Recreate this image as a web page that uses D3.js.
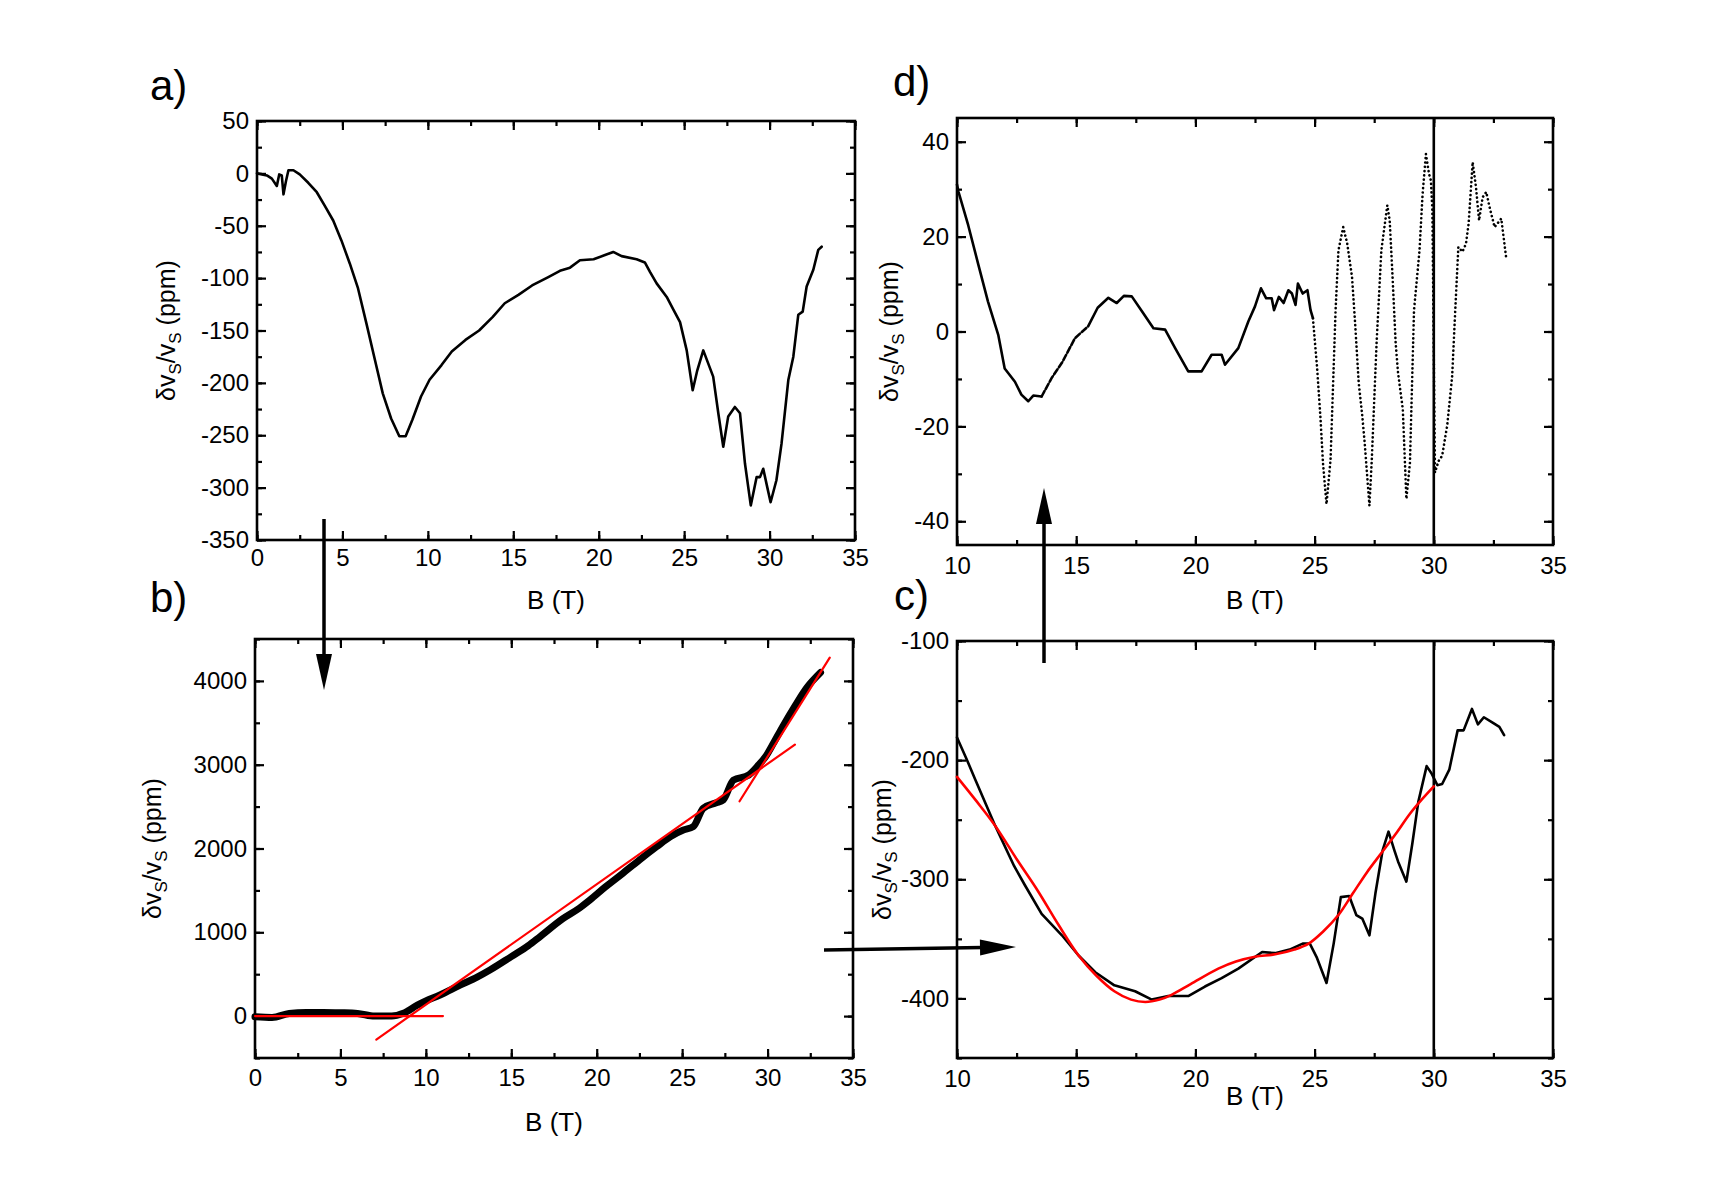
<!DOCTYPE html>
<html>
<head>
<meta charset="utf-8">
<script src="https://cdn.jsdelivr.net/npm/d3@7"></script>
<style>
  body { margin: 0; background: #fff; }
  text { font-family: "Liberation Sans", Arial, Helvetica, sans-serif; fill: #000; }
</style>
</head>
<body>
<svg id="fig" width="1713" height="1198"></svg>
<script>
// ---- data: [B (T), dv/v (ppm)] ----
const panelA = [[0,0],[0.58,-2],[0.87,-5],[1.16,-12],[1.3,-1],[1.45,-2],[1.55,-20],[1.7,-7],[1.84,3],[2.13,3],
  [2.5,-1],[3.0,-9],[3.5,-18],[3.97,-31],[4.46,-45],[4.94,-64],[5.43,-86],[5.9,-109],[6.4,-143],[6.9,-178],
  [7.36,-210],[7.85,-234],[8.33,-251],[8.7,-251],[9.1,-235],[9.6,-213],[10.1,-197],[10.8,-183],[11.4,-170],
  [12.2,-159],[13.0,-150],[13.8,-137],[14.5,-124],[15.3,-116],[16.1,-107],[17.05,-99],[17.73,-93],[18.32,-90],
  [18.9,-83],[19.7,-82],[20.37,-78],[20.85,-75],[21.34,-79],[22.22,-82],[22.7,-85],[23.0,-94],[23.39,-105],
  [23.98,-118],[24.37,-130],[24.76,-142],[25.15,-169],[25.5,-207],[25.77,-188],[26.12,-169],[26.7,-194],
  [27.0,-229],[27.29,-261],[27.58,-232],[27.97,-223],[28.27,-229],[28.56,-277],[28.9,-317],[29.24,-290],
  [29.44,-290],[29.63,-282],[29.87,-300],[30.06,-314],[30.4,-293],[30.7,-258],[31.1,-197],[31.39,-175],
  [31.68,-135],[31.94,-132],[32.17,-108],[32.56,-92],[32.85,-73],[33.05,-70]];

const panelB = [[0,-8],[1,-16],[2,32],[3,44],[4,44],[5,40],[6,32],[7,0],[8,0],[8.68,33],[9.5,130],
  [10,180],[10.83,252],[12,370],[13,465],[13.75,550],[15,710],[16,840],[16.68,948],[18,1160],[19,1290],
  [19.6,1385],[20.5,1540],[21.5,1700],[22.5,1863],[23.5,2020],[24.3,2140],[25.07,2220],[25.65,2260],
  [26.24,2480],[27.0,2545],[27.4,2579],[28.0,2815],[28.9,2877],[29.4,2980],[29.9,3100],[30.3,3240],
  [30.9,3460],[31.6,3700],[32.3,3920],[33.1,4100]];
const fitBFlat = [[0,0],[11,0]];
const fitBMid = [[7.1,-280],[31.6,3240]];
const fitBHigh = [[28.36,2564],[33.64,4278]];

const panelC = [[10,-181],[10.4,-199],[10.76,-216],[11.6,-255],[12.4,-289],[12.85,-305],[13.55,-329],[14.4,-347],
  [15.1,-364],[15.8,-378],[16.6,-389],[17.47,-394],[18.17,-401],[18.86,-398],[19.7,-398],[20.4,-390],
  [21.1,-383],[21.8,-375],[22.8,-361],[23.34,-362],[23.95,-359],[24.5,-354],[24.8,-354],
  [25.1,-366],[25.5,-387],[25.8,-354],[26.1,-315],[26.45,-314],[26.75,-330],[27.0,-333],[27.3,-347],[27.55,-312],
  [27.85,-276],[28.1,-260],[28.35,-276],[28.5,-285],[28.85,-302],[29.1,-270],[29.35,-235],[29.7,-205],[29.9,-211],
  [30.15,-221],[30.35,-220],[30.65,-208],[31.0,-175],[31.25,-175],[31.6,-157],[31.85,-170],[32.1,-164],
  [32.5,-169],[32.75,-172],[32.95,-179]];
const fitC = [[10,-214],[10.8,-234],[11.6,-255],[12.5,-283],[13.4,-310],[14.25,-338],[15.1,-364],[15.85,-381],
  [16.6,-394],[17.3,-401],[17.9,-403],[18.5,-401],[19.0,-397],[19.8,-388],[20.96,-375],[21.7,-369],[22.5,-365],
  [23.35,-363],[24.15,-359],[24.75,-354],[25.35,-344],[26.0,-330],[26.6,-312],[27.2,-294],[27.8,-278],
  [28.4,-262],[29.0,-245],[29.5,-233],[30,-222]];

const panelD = [[10,31],[10.06,29.5],[10.47,22.4],[10.9,14],[11.3,6.3],[11.73,-0.7],[12.0,-7.8],[12.43,-10.6],
  [12.7,-13.3],[12.99,-14.7],[13.2,-13.5],[13.55,-13.7],[13.97,-9.8],[14.4,-6.6],[14.95,-1.4],[15.5,1.1],
  [15.9,5],[16.35,7.1],[16.7,6],[17.0,7.5],[17.33,7.4],[17.75,4.3],[18.24,0.7],[18.73,0.4],[19.15,-3.5],
  [19.7,-8.4],[20.26,-8.4],[20.68,-4.9],[21.1,-4.9],[21.24,-7],[21.8,-3.5],[22.22,2.1],[22.5,5.3],
  [22.75,9.1],[22.97,7],[23.2,7],
  [23.3,4.5],[23.5,7.3],[23.7,6],[23.9,8.7],[24.05,8],[24.2,5.6],[24.3,10.1],[24.5,8],[24.7,8.7],[24.83,4.5],
  [24.93,2.8],[25.1,-7.3],[25.25,-18.5],[25.35,-27.6],[25.5,-36.4],[25.67,-26.9],[25.88,4.5],[26.0,17.1],
  [26.2,22],[26.37,18.5],[26.57,11.5],[26.7,1.7],[26.85,-10.8],[27.0,-17.8],[27.1,-23.4],[27.3,-36.7],
  [27.4,-26.9],[27.6,-2.4],[27.8,17.1],[28.05,26.6],[28.15,23.4],[28.25,13.6],[28.4,-2.4],[28.5,-8.7],
  [28.7,-16.4],[28.85,-35.3],[29.0,-27.6],[29.17,4.5],[29.4,17.1],[29.53,29],[29.67,37.4],[29.8,33.2],
  [29.88,31.8],[29.94,25.5],[30.05,-29.7],[30.2,-27.3],[30.35,-26.2],[30.56,-19.9],[30.77,-9.4],[30.9,4.5],
  [31.03,17.8],[31.2,16.8],[31.35,18.5],[31.46,22.7],[31.63,35.7],[31.77,30.4],[31.9,23.4],[32.05,28.3],
  [32.2,29.4],[32.34,26.2],[32.55,22],[32.83,23.8],[33.04,15.4]];

const xTicksAB = [0, 5, 10, 15, 20, 25, 30, 35];
const xTicksCD = [10, 15, 20, 25, 30, 35];
const yTicksA = [50, 0, -50, -100, -150, -200, -250, -300, -350];
const yTicksB = [0, 1000, 2000, 3000, 4000];
const yTicksC = [-100, -200, -300, -400];
const yTicksD = [-40, -20, 0, 20, 40];
const markerB = 30;

const svg = d3.select("#fig");
svg.append("rect").attr("width", 1713).attr("height", 1198).attr("fill", "#fff");

const FONT = 24;

function addTicks(g, axisFn, scale, vals, size, transform, labels, pad) {
  const ax = axisFn(scale).tickValues(vals).tickSizeInner(-size).tickSizeOuter(0)
    .tickPadding(pad || 0).tickFormat(labels ? (d => String(d)) : () => "");
  const ag = g.append("g").attr("transform", transform).call(ax);
  ag.attr("font-family", null).attr("font-size", null);
  ag.select(".domain").remove();
  ag.selectAll("line").attr("stroke", "#000").attr("stroke-width", 2.2);
  ag.selectAll("text").attr("font-size", FONT).attr("fill", "#000");
  return ag;
}

function panel(o) {
  const x = d3.scaleLinear().domain(o.xd).range([o.x0, o.x1]);
  const y = d3.scaleLinear().domain(o.yd).range([o.y1, o.y0]);
  const g = svg.append("g");

  const minorX = d3.range(o.xd[0], o.xd[1] + 1e-6, 2.5);
  const minorY = d3.range(Math.ceil(o.yd[0] / o.ym) * o.ym, o.yd[1] + 1e-6, o.ym);

  // minor ticks on all four sides
  addTicks(g, d3.axisBottom, x, minorX, 5, `translate(0,${o.y1})`);
  addTicks(g, d3.axisTop, x, minorX, 5, `translate(0,${o.y0})`);
  addTicks(g, d3.axisLeft, y, minorY, 5, `translate(${o.x0},0)`);
  addTicks(g, d3.axisRight, y, minorY, 5, `translate(${o.x1},0)`);
  // major ticks
  addTicks(g, d3.axisBottom, x, o.xt, 9, `translate(0,${o.y1})`, true, o.xpad);
  addTicks(g, d3.axisTop, x, o.xt, 9, `translate(0,${o.y0})`);
  addTicks(g, d3.axisLeft, y, o.yt, 9, `translate(${o.x0},0)`, true, 8);
  addTicks(g, d3.axisRight, y, o.yt, 9, `translate(${o.x1},0)`);

  g.append("rect").attr("x", o.x0).attr("y", o.y0)
    .attr("width", o.x1 - o.x0).attr("height", o.y1 - o.y0)
    .attr("fill", "none").attr("stroke", "#000").attr("stroke-width", 2.6);

  // axis titles
  g.append("text").attr("x", (o.x0 + o.x1) / 2).attr("y", o.y1 + o.xtitle)
    .attr("text-anchor", "middle").attr("font-size", 26).text("B (T)");
  const t = g.append("text")
    .attr("transform", `translate(${o.ytitle},${(o.y0 + o.y1) / 2}) rotate(-90)`)
    .attr("text-anchor", "middle").attr("font-size", 25);
  t.append("tspan").text("\u03b4v");
  t.append("tspan").attr("dy", 6).attr("font-size", 17).text("S");
  t.append("tspan").attr("dy", -6).text("/v");
  t.append("tspan").attr("dy", 6).attr("font-size", 17).text("S");
  t.append("tspan").attr("dy", -6).text(" (ppm)");

  // panel letter
  g.append("text").attr("x", o.lx).attr("y", o.ly).attr("font-size", 42).text(o.letter);

  return { g, x, y };
}

function curve(p, data, color, width, dash, curveType) {
  const line = d3.line().x(d => p.x(d[0])).y(d => p.y(d[1])).curve(curveType || d3.curveLinear);
  p.g.append("path").datum(data).attr("d", line).attr("fill", "none")
    .attr("stroke", color).attr("stroke-width", width)
    .attr("stroke-linejoin", "round").attr("stroke-linecap", "round")
    .attr("stroke-dasharray", dash || null);
}

function markerLine(p) {
  p.g.append("line").attr("x1", p.x(markerB)).attr("x2", p.x(markerB))
    .attr("y1", p.y.range()[1]).attr("y2", p.y.range()[0])
    .attr("stroke", "#000").attr("stroke-width", 2.6);
}

// a)
const pa = panel({ letter: "a)", lx: 150, ly: 100, x0: 257, x1: 855, y0: 121, y1: 540,
  xd: [0, 35], yd: [-350, 50], ym: 25, xt: xTicksAB, yt: yTicksA, xpad: 9, xtitle: 69, ytitle: 175 });
curve(pa, panelA, "#000", 2.6);

// b)
const pb = panel({ letter: "b)", lx: 150, ly: 612, x0: 255, x1: 853, y0: 639, y1: 1058,
  xd: [0, 35], yd: [-500, 4500], ym: 500, xt: xTicksAB, yt: yTicksB, xpad: 11, xtitle: 73, ytitle: 161 });
curve(pb, panelB, "#000", 7, null, d3.curveMonotoneX);
curve(pb, fitBFlat, "#f00", 2.2);
curve(pb, fitBMid, "#f00", 2.2);
curve(pb, fitBHigh, "#f00", 2.2);

// d)
const pd = panel({ letter: "d)", lx: 893, ly: 96, x0: 957, x1: 1553, y0: 118, y1: 545,
  xd: [10, 35], yd: [-45, 45], ym: 10, xt: xTicksCD, yt: yTicksD, xpad: 12, xtitle: 64, ytitle: 898 });
markerLine(pd);
curve(pd, panelD.filter(d => d[0] <= 13.55), "#000", 2.6);
curve(pd, panelD.filter(d => d[0] >= 13.55 && d[0] <= 15.5), "#000", 2.6, "6,2.5");
curve(pd, panelD.filter(d => d[0] >= 15.5 && d[0] <= 24.93), "#000", 2.6);
curve(pd, panelD.filter(d => d[0] >= 24.93), "#000", 2.6, "0.1,4.2");

// c)
const pc = panel({ letter: "c)", lx: 894, ly: 610, x0: 957, x1: 1553, y0: 641, y1: 1058,
  xd: [10, 35], yd: [-450, -100], ym: 50, xt: xTicksCD, yt: yTicksC, xpad: 12, xtitle: 47, ytitle: 891 });
markerLine(pc);
curve(pc, panelC, "#000", 2.6);
curve(pc, fitC, "#f00", 2.6, null, d3.curveCatmullRom);

// arrows linking the panels
const arrows = [
  [324, 519, 324, 690],
  [824, 950, 1016, 947],
  [1044, 663, 1044, 488]
];
arrows.forEach(([x1, y1, x2, y2]) => {
  const len = Math.hypot(x2 - x1, y2 - y1), ux = (x2 - x1) / len, uy = (y2 - y1) / len;
  const hl = 36, hw = 8;
  const bx = x2 - ux * hl, by = y2 - uy * hl;
  svg.append("line").attr("x1", x1).attr("y1", y1).attr("x2", bx + ux * 2).attr("y2", by + uy * 2)
    .attr("stroke", "#000").attr("stroke-width", 3.5);
  svg.append("polygon")
    .attr("points", [[x2, y2], [bx - uy * hw, by + ux * hw], [bx + uy * hw, by - ux * hw]].map(p => p.join(",")).join(" "))
    .attr("fill", "#000");
});
</script>
</body>
</html>
